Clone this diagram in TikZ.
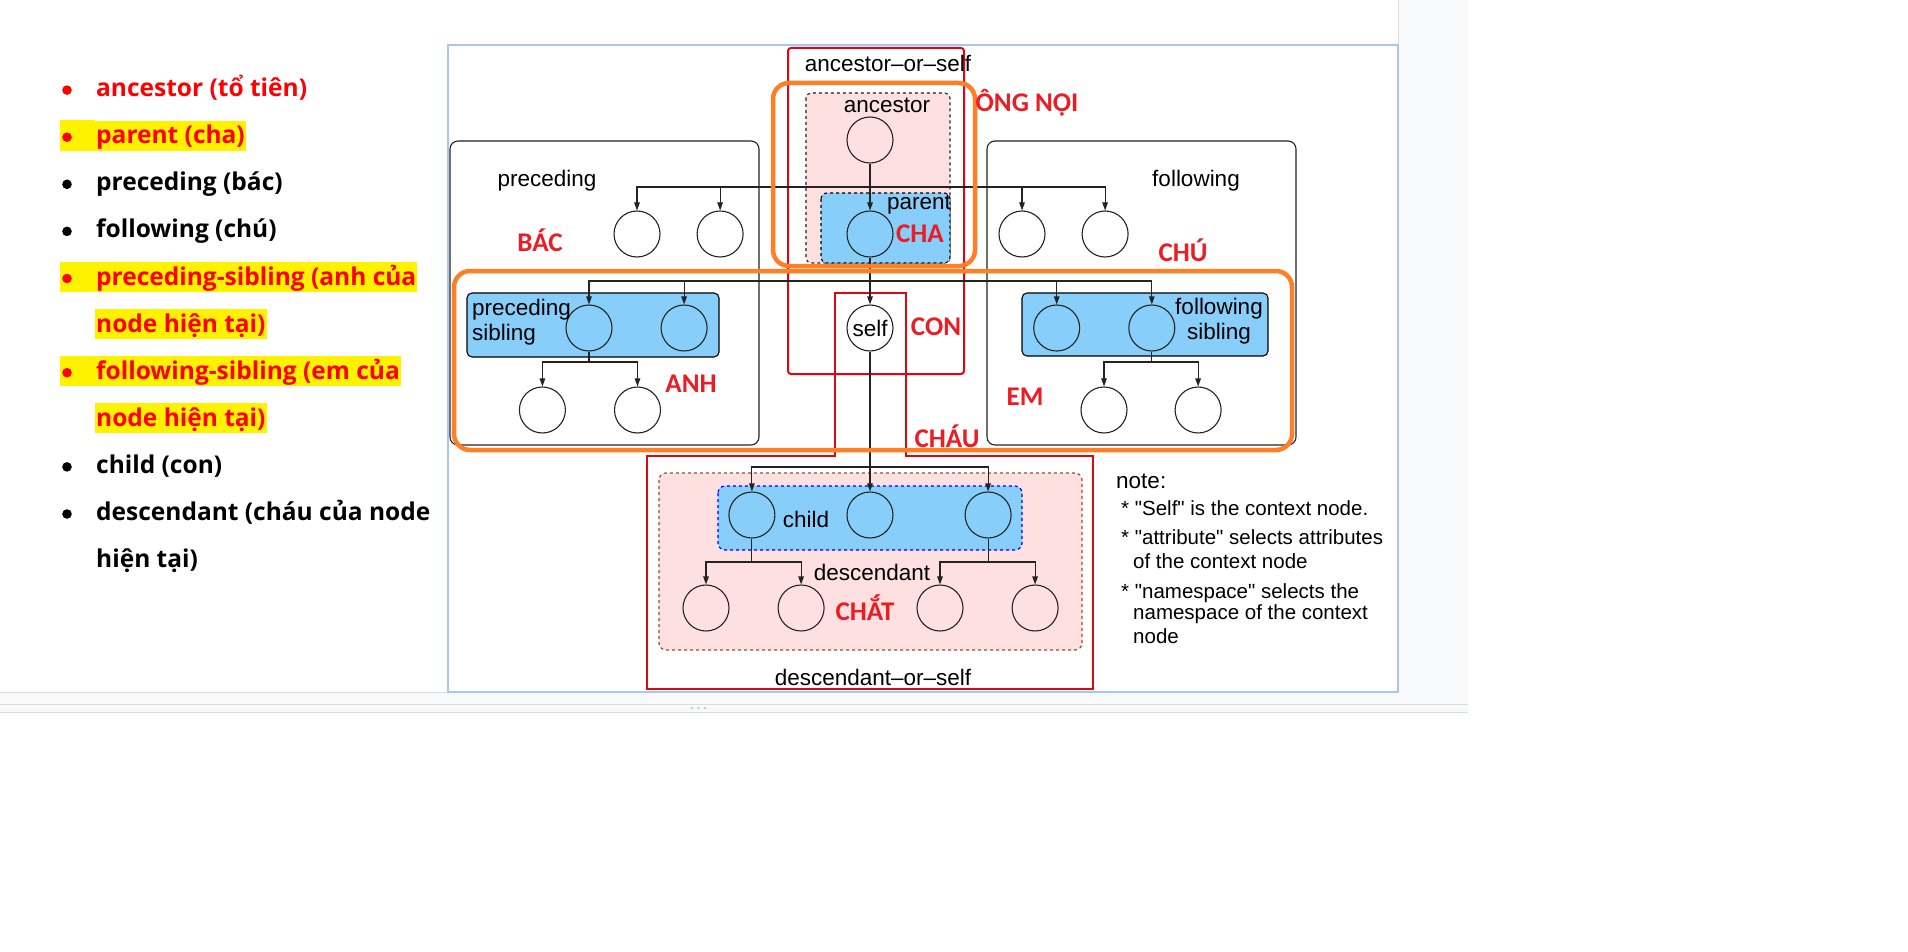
\documentclass[tikz,border=0pt]{standalone}
\usepackage{fontspec}
\setmainfont{Liberation Sans}
\newfontfamily\notefam{Liberation Sans}[Ligatures=ResetAll]
\newfontfamily\listfont{Open Sans}
\newfontfamily\tagfont{Carlito}
\usepackage{tikz}
\usetikzlibrary{arrows.meta, positioning}

\definecolor{skyFill}{RGB}{135,206,250}
\definecolor{pinkFill}{RGB}{255,224,224}
\definecolor{hiOrange}{RGB}{255,127,39}
\definecolor{boxRed}{RGB}{218,8,18}
\definecolor{tagRed}{RGB}{236,28,36}
\definecolor{listRed}{RGB}{255,0,0}
\definecolor{descBrown}{RGB}{140,82,50}
\definecolor{frameBlue}{RGB}{170,198,238}
\definecolor{lineGray}{RGB}{35,35,35}
\definecolor{paneGray}{RGB}{248,249,250}
\definecolor{edgeGray}{RGB}{220,220,222}
\definecolor{dotGray}{RGB}{200,200,204}

\newcommand{\dgfont}{\fontsize{22.5pt}{25pt}\selectfont}
\newcommand{\notefont}{\notefam\fontsize{20.5pt}{23.5pt}\selectfont}

\begin{document}
\begin{tikzpicture}[
    x=1pt, y=-1pt,
    ball/.style={circle, draw=lineGray, line width=1.1pt, minimum size=46pt, inner sep=0pt},
    link/.style={-{Triangle[length=8pt, width=5.5pt]}, draw=lineGray, line width=1.1pt},
    bus/.style={draw=lineGray, line width=1.1pt},
    lbl/.style={font=\dgfont, inner sep=0pt},
    note/.style={font=\notefont, inner sep=0pt, anchor=base west},
    tag/.style={font=\tagfont\bfseries\fontsize{27pt}{30pt}\selectfont, text=tagRed, inner sep=0pt},
    item/.style={anchor=west, font=\listfont\bfseries\fontsize{24.5pt}{28pt}\selectfont,
                 inner xsep=1pt, inner ysep=3pt, text height=20pt, text depth=4pt},
    hl/.style={fill=yellow},
    hilite/.style={draw=hiOrange, line width=4.5pt, rounded corners=16pt},
    axisbox/.style={draw=boxRed, line width=2pt}
]
\useasboundingbox (0,0) rectangle (1908,952);

% screen background
\fill[white] (0,0) rectangle (1908,952);
\fill[paneGray] (0,0) rectangle (1468,712);
\fill[white] (0,0) rectangle (1398,692);
\draw[edgeGray, line width=1pt] (1398,0) -- (1398,692) -- (0,692);
\draw[edgeGray, line width=1pt] (0,704) -- (1468,704) (0,712) -- (1468,712);
\foreach \x in {692,698.5,705} \fill[dotGray] (\x,708) circle (1.4pt);

% list on the left
\node[item, text=listRed] (li0) at (95,88.6) {ancestor (tổ tiên)};
\node[item, text=listRed, hl] (li1) at (95,135.7) {parent (cha)};
\node[item] (li2) at (95,182.8) {preceding (bác)};
\node[item] (li3) at (95,229.9) {following (chú)};
\node[item, text=listRed, hl] (li4) at (95,277) {preceding-sibling (anh của};
\node[item, text=listRed, hl] (li5) at (95,324.1) {node hiện tại)};
\node[item, text=listRed, hl] (li6) at (95,371.2) {following-sibling (em của};
\node[item, text=listRed, hl] (li7) at (95,418.3) {node hiện tại)};
\node[item] (li8) at (95,465.4) {child (con)};
\node[item] (li9) at (95,512.5) {descendant (cháu của node};
\node[item] (li10) at (95,559.6) {hiện tại)};
\foreach \n in {li1,li4,li6}
  \fill[yellow] (\n.north west) rectangle ([xshift=-35pt]\n.south west);
\foreach \y/\c in {88.6/listRed,135.7/listRed,182.8/black,229.9/black,277/listRed,
                   371.2/listRed,465.4/black,512.5/black}
  \fill[\c] (67,\y+1.5) circle (4.8pt);

% diagram frame
\draw[frameBlue, line width=1.3pt] (448,45) rectangle (1398,692);

% preceding and following areas
\draw[lineGray, line width=1.1pt, rounded corners=8pt] (450,141) rectangle (759,445);
\draw[lineGray, line width=1.1pt, rounded corners=8pt] (987,141) rectangle (1296,445);

% shaded groups
\draw[lineGray, fill=pinkFill, dashed, line width=1.1pt, rounded corners=5pt] (806,93) rectangle (950,263);
\draw[black, fill=skyFill, dashed, line width=1.1pt, rounded corners=6pt] (821,193) rectangle (950,263);
\draw[black, fill=skyFill, line width=1.1pt, rounded corners=5pt] (467,293) rectangle (719,357);
\draw[black, fill=skyFill, line width=1.1pt, rounded corners=5pt] (1022,293) rectangle (1268,356);
\draw[descBrown, fill=pinkFill, dashed, line width=1.2pt, rounded corners=7pt] (659,473) rectangle (1082,650);
\draw[blue, fill=skyFill, dashed, line width=1.2pt, rounded corners=7pt] (718,486) rectangle (1022,550);

% axis outlines
\draw[axisbox, rounded corners=3pt] (788,48) rectangle (964,374);
\draw[axisbox] (835,293) -- (906,293) -- (906,456) -- (1093,456) -- (1093,689)
               -- (647,689) -- (647,456) -- (835,456) -- cycle;

% nodes
\node[ball] (anc) at (870,140) {};
\node[ball] (par) at (870,234) {};
\node[ball, font=\dgfont] (self) at (870,328) {self};
\node[ball] (pre1) at (637,234) {};
\node[ball, right=36pt of pre1] (pre2) {};
\node[ball] (fol1) at (1022,234) {};
\node[ball, right=36pt of fol1] (fol2) {};
\node[ball] (ps1) at (589,328) {};
\node[ball, right=48pt of ps1] (ps2) {};
\node[ball] (psc1) at (542.4,410) {};
\node[ball, right=48pt of psc1] (psc2) {};
\node[ball] (fs1) at (1056.7,328) {};
\node[ball, right=48pt of fs1] (fs2) {};
\node[ball] (fsc1) at (1104,410) {};
\node[ball, right=47pt of fsc1] (fsc2) {};
\node[ball] (ch2) at (870,515) {};
\node[ball, left=71pt of ch2] (ch1) {};
\node[ball, right=71pt of ch2] (ch3) {};
\node[ball] (dc1) at (706,608) {};
\node[ball, right=48pt of dc1] (dc2) {};
\node[ball] (dc3) at (940,608) {};
\node[ball, right=48pt of dc3] (dc4) {};

% branch points
\coordinate (busA) at (anc |- 0,187);
\coordinate (busB) at (par |- 0,281);
\coordinate (busC) at (ps1 |- 0,362);
\coordinate (busG) at (fs2 |- 0,362);
\coordinate (busD) at (self |- 0,467);
\coordinate (busE) at (ch1 |- 0,562);
\coordinate (busF) at (ch3 |- 0,562);

% connectors
\draw[link] (anc) -- (par);
\foreach \n in {pre1,pre2,fol1,fol2} \draw[link] (busA) -| (\n);
\draw[link] (par) -- (self);
\foreach \n in {ps1,ps2,fs1,fs2} \draw[link] (busB) -| (\n);
\draw[bus] (ps1) -- (busC);
\foreach \n in {psc1,psc2} \draw[link] (busC) -| (\n);
\draw[bus] (fs2) -- (busG);
\foreach \n in {fsc1,fsc2} \draw[link] (busG) -| (\n);
\draw[link] (self) -- (ch2);
\foreach \n in {ch1,ch3} \draw[link] (busD) -| (\n);
\draw[bus] (ch1) -- (busE);
\foreach \n in {dc1,dc2} \draw[link] (busE) -| (\n);
\draw[bus] (ch3) -- (busF);
\foreach \n in {dc3,dc4} \draw[link] (busF) -| (\n);

% axis labels
\node[lbl] (aosT) at (888,63) {ancestor–or–self};
\node[lbl] (ancT) at (887,105) {ancestor};
\node[lbl] (parT) at (919,205) {parent};
\node[lbl] (preT) at (547,181) {preceding};
\node[lbl] (folT) at (1196,181) {following};
\node[lbl, align=left, anchor=west] (psT) at (472,322) {preceding\\sibling};
\node[lbl, align=center] (fsT) at (1219,321) {following\\sibling};
\node[lbl] (chT) at (806,519) {child};
\node[lbl] (dcT) at (872,572) {descendant};
\node[lbl] (dosT) at (873,677) {descendant–or–self};

% note
\node[note, font=\notefam\dgfont] (noteT) at (1116,488) {note:};
\node[note] (n1) at (1121,515.8) {* "Self" is the context node.};
\node[note] (n2) at (1121,544.8) {* "attribute" selects attributes};
\node[note] (n2b) at (1133,568.2) {of the context node};
\node[note] (n3) at (1121,598.2) {* "namespace" selects the};
\node[note] (n3b) at (1133,619.5) {namespace of the context};
\node[note] (n3c) at (1133,643.5) {node};

% family highlights
\draw[hilite] (773,83) rectangle (975,266);
\draw[hilite] (454,271) rectangle (1292,450);

% family names
\node[tag] (ongT) at (1027,103) {ÔNG NỘI};
\node[tag] (bacT) at (540,240) {BÁC};
\node[tag] (chaT) at (920,234) {CHA};
\node[tag] (chuT) at (1183,250) {CHÚ};
\node[tag] (conT) at (936,327) {CON};
\node[tag] (anhT) at (691,384) {ANH};
\node[tag] (emT) at (1025,397) {EM};
\node[tag] (chauT) at (947,436) {CHÁU};
\node[tag] (chatT) at (865,608) {CHẮT};

\end{tikzpicture}
\end{document}
